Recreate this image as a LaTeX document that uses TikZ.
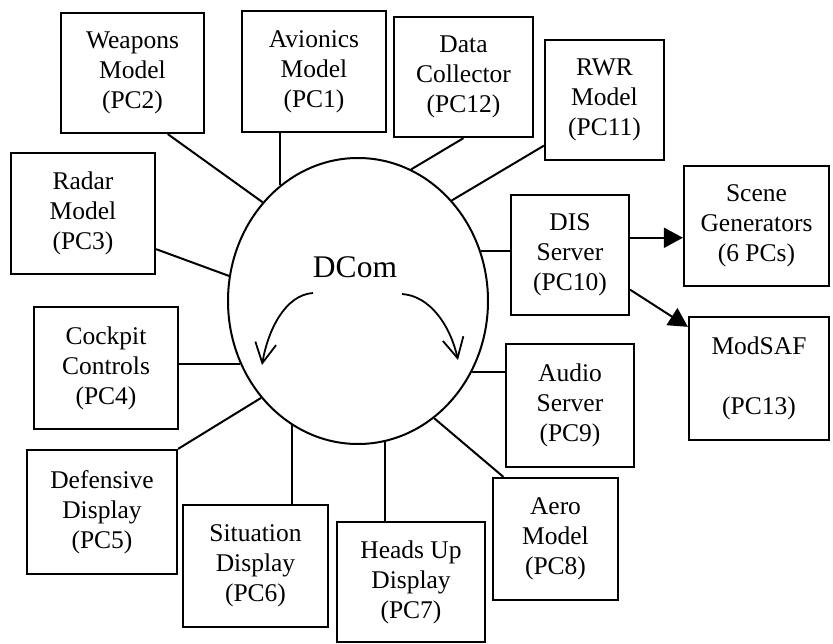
\documentclass[tikz,border=0pt]{standalone}
\usepackage{fontspec}
\setmainfont{Liberation Serif}
\usetikzlibrary{shapes.geometric,arrows.meta}

\begin{document}
\begin{tikzpicture}[x=1pt, y=-1pt,
    pcbox/.style={draw, line width=2.2pt, align=center, inner sep=0pt, font=\fontsize{25.5}{30}\selectfont},
    link/.style={line width=2pt},
    feed/.style={line width=2pt, -{Triangle[length=19pt,width=20pt]}},
    flow/.style={line width=1.8pt, -{Straight Barb[length=20pt,width=21pt,line width=1.8pt]}}]
  \useasboundingbox (0,0) rectangle (833,644);
  % central hub
  \node[ellipse, draw, line width=2pt, minimum width=260pt, minimum height=286pt, inner sep=0pt] (dcom) at (358,301) {};
  \node[font=\fontsize{31.5}{36}\selectfont] (dcomlabel) at (355,267) {DCom};
  % computer boxes
  \foreach \name/\x/\y/\w/\h/\txt in {
      weapons/132.5/73/143/120/{Weapons\\Model\\(PC2)},
      avionics/314/71.5/144/121/{Avionics\\Model\\(PC1)},
      datacol/463.5/77/139/120/{Data\\Collector\\(PC12)},
      rwr/604.5/100/119/120/{RWR\\Model\\(PC11)},
      radar/83/213.5/144/121/{Radar\\Model\\(PC3)},
      dis/570/255/118/120/{DIS\\Server\\(PC10)},
      scene/756.5/226/145/120/{Scene\\Generators\\(6 PCs)},
      modsaf/759/378.5/140/123/{ModSAF\\[30pt](PC13)},
      cockpit/106/368/144/122/{Cockpit\\Controls\\(PC4)},
      defensive/102/512/150/124/{Defensive\\Display\\(PC5)},
      situation/255.5/566/145/122/{Situation\\Display\\(PC6)},
      headsup/411/582/148/120/{Heads Up\\Display\\(PC7)},
      aero/555.5/539/125/122/{Aero\\Model\\(PC8)},
      audio/570/405.5/128/123/{Audio\\Server\\(PC9)}} {
    \node[pcbox, minimum width=\w pt, minimum height=\h pt] (\name) at (\x,\y) {\txt};
  }
  % links to the hub
  \draw[link] (weapons.300) -- (dcom.134);
  \draw[link] (dcom.124) -- (dcom.124 |- avionics.south);
  \draw[link] (datacol.south) -- (dcom.68);
  \draw[link] (rwr.217) -- (dcom.47);
  \draw[link] (radar.334) -- (dcom.169);
  \draw[link] (dcom.22) -- (dcom.22 -| dis.west);
  \draw[link] (dcom.208) -- (dcom.208 -| cockpit.east);
  \draw[link] (defensive.north east) -- (dcom.225);
  \draw[link] (dcom.242) -- (dcom.242 |- situation.north);
  \draw[link] (dcom.281) -- (dcom.281 |- headsup.north);
  \draw[link] (dcom.328) -- (dcom.328 -| audio.west);
  \draw[link] (dcom.303) -- (aero.130);
  % DIS outputs
  \draw[feed] (dis.16) -- (dis.16 -| scene.west);
  \draw[feed] (dis.330) -- (modsaf.144);
  % curved arrows inside the hub
  \coordinate (leftfrom) at (313,293);
  \coordinate (leftto) at (262,365);
  \coordinate (rightfrom) at (402,294);
  \coordinate (rightto) at (458,360);
  \draw[flow] (leftfrom) .. controls (285,295) and (268,330) .. (leftto);
  \draw[flow] (rightfrom) .. controls (430,296) and (450,325) .. (rightto);
\end{tikzpicture}
\end{document}
